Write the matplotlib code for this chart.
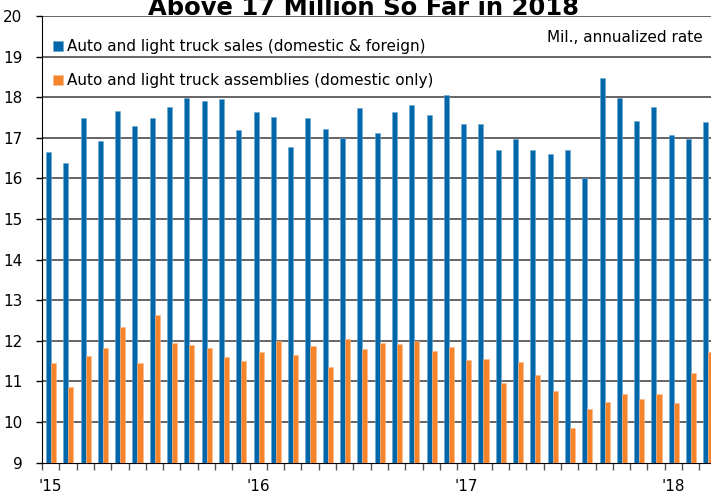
import matplotlib.pyplot as plt
import numpy as np

# monthly, Jan 2015 - Mar 2018
sales = [16.66, 16.39, 17.48, 16.92, 17.67, 17.28, 17.48, 17.75, 17.97, 17.90, 17.96, 17.18,
         17.63, 17.51, 16.77, 17.48, 17.21, 16.99, 17.74, 17.12, 17.64, 17.80, 17.55, 18.05,
         17.33, 17.33, 16.71, 16.97, 16.70, 16.60, 16.69, 16.02, 18.48, 17.99, 17.42, 17.75,
         17.08, 16.98, 17.40]
assemblies = [11.46, 10.86, 11.62, 11.83, 12.35, 11.45, 12.63, 11.94, 11.89, 11.83, 11.59, 11.51,
              11.73, 12.00, 11.65, 11.88, 11.35, 12.04, 11.80, 11.94, 11.92, 12.00, 11.75, 11.85,
              11.52, 11.54, 10.95, 11.48, 11.16, 10.77, 9.85, 10.32, 10.50, 10.69, 10.57, 10.69,
              10.47, 11.21, 11.72]
year_labels = ["'15", "'16", "'17", "'18"]

blue = '#0068aa'
orange = '#f5842a'

fig = plt.figure(figsize=(7.11, 4.93), dpi=100)
ax = fig.add_axes([42/711, 30.4/493, 674.7/711, 446.6/493])

x = np.arange(len(sales))
ax.bar(x + 0.375, np.array(sales) - 9, bottom=9, width=0.29, color=blue,
       edgecolor='#6fa6cf', linewidth=0.4, zorder=3, label='Auto and light truck sales (domestic & foreign)')
ax.bar(x + 0.665, np.array(assemblies) - 9, bottom=9, width=0.29, color=orange,
       edgecolor='#f8b98a', linewidth=0.4, zorder=3, label='Auto and light truck assemblies (domestic only)')

ax.set_ylim(9, 20)
ax.set_xlim(0, 39)
ax.set_yticks(range(9, 21))
for yv in range(10, 21):
    ax.axhline(yv, color='#3a3a3a', lw=1.1, zorder=2)

ax.set_xticks(np.arange(0, 40), minor=True)
ax.set_xticks([0.5, 12.5, 24.5, 36.5])
ax.set_xticklabels(year_labels, fontsize=11)
ax.tick_params(axis='x', which='major', length=0, pad=12)
ax.tick_params(axis='x', which='minor', length=5, width=1, color='#555555')
ax.tick_params(axis='y', length=4, width=1, pad=10, labelsize=11)

for s in ['top', 'right']:
    ax.spines[s].set_visible(False)
ax.spines['left'].set_color('black')
ax.spines['bottom'].set_color('black')

ax.legend(loc='upper left', bbox_to_anchor=(0.0, 0.972), frameon=False, fontsize=11,
          handlelength=0.65, handleheight=0.65, handletextpad=0.3, labelspacing=1.25,
          borderaxespad=0.3)

fig.text(703/711, 1 - 37/493, 'Mil., annualized rate', ha='right', va='center', fontsize=11)
fig.text(363/711, 1 - 15/493, 'Above 17 Million So Far in 2018', ha='center', va='baseline',
         fontsize=17.5, fontweight='bold')

fig.savefig('out.png', dpi=100)
